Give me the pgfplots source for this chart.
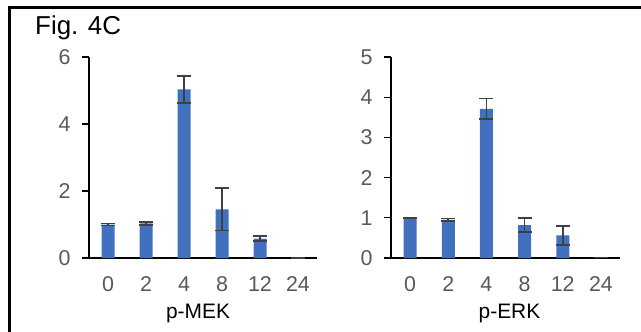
\documentclass[border=0pt]{standalone}
\usepackage{fontspec}
\setmainfont{Liberation Sans}
\usepackage{pgfplots}
\pgfplotsset{compat=1.18}
\definecolor{barblue}{HTML}{4070BE}
\definecolor{tickgray}{HTML}{595959}
\definecolor{errgray}{HTML}{404040}
\pgfplotsset{
  panel/.style={
    scale only axis,
    anchor=south west,
    width=228bp, height=201bp,
    xmin=-0.5, xmax=5.5, ymin=0,
    axis x line*=bottom, axis y line*=left,
    axis line style={black, line width=1.2bp},
    xtick={0,1,2,3,4,5},
    xticklabels={0,2,4,8,12,24},
    x tick style={draw=none},
    y tick style={black, line width=1.2bp},
    tick align=outside,
    major tick length=7bp,
    ticklabel style={font=\fontsize{21.5}{24}\selectfont, text=tickgray},
    /pgf/number format/assume math mode=true,
    xticklabel style={yshift=-8bp},
    yticklabel style={xshift=-8bp},
    xlabel style={font=\fontsize{21}{24}\selectfont, at={(axis description cs:0.5,0)}, anchor=base, yshift=-60bp},
    ybar, bar width=13bp,
    clip=false,
  },
  bars/.style={
    fill=barblue, draw=none,
    error bars/.cd, y dir=both, y explicit,
    error bar style={errgray, line width=1.7bp},
    error mark options={rotate=90, errgray, line width=1.7bp, mark size=7bp},
  },
}
\begin{document}
\begin{tikzpicture}
\path[use as bounding box] (0,0) rectangle (641bp,332bp);
\draw[black, line width=2.5bp] (9.5bp,0) -- (9.5bp,324.5bp) -- (641bp,324.5bp);
\node[anchor=base west, font=\fontsize{26}{30}\selectfont, inner sep=0] at (35bp,297bp) {Fig. 4C};
\begin{axis}[panel, at={(89bp,74bp)}, ymax=6, ytick={0,2,4,6}, xlabel={p-MEK}, xlabel style={xshift=-5bp}]
\addplot[bars] coordinates {
 (0,1.00) +- (0,0.03)
 (1,1.03) +- (0,0.05)
 (2,5.03) +- (0,0.40)
 (3,1.45) +- (0,0.63)
 (4,0.58) +- (0,0.07)
 (5,0.01) +- (0,0)
};
\end{axis}
\begin{axis}[panel, at={(391bp,74bp)}, width=229bp, ymax=5, ytick={0,1,2,3,4,5}, xlabel={p-ERK}, xlabel style={xshift=4bp}]
\addplot[bars] coordinates {
 (0,1.00) +- (0,0.01)
 (1,0.95) +- (0,0.03)
 (2,3.71) +- (0,0.26)
 (3,0.82) +- (0,0.17)
 (4,0.56) +- (0,0.23)
 (5,0.01) +- (0,0)
};
\end{axis}
\end{tikzpicture}
\end{document}
